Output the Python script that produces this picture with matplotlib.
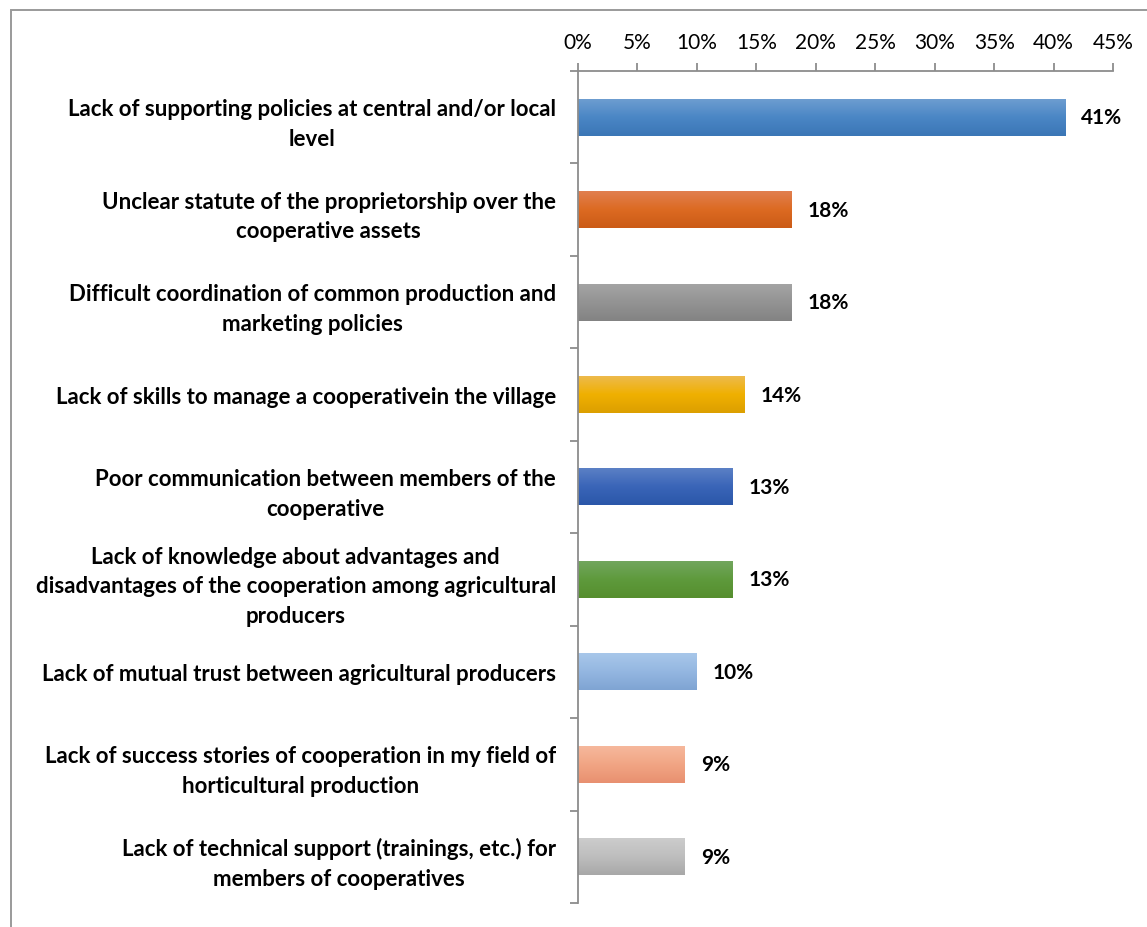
import numpy as np
import matplotlib
matplotlib.use("Agg")
import matplotlib.pyplot as plt
from matplotlib.colors import to_rgb
from matplotlib.patches import Rectangle

categories = [
    "Lack of supporting policies at central and/or local\nlevel",
    "Unclear statute of the proprietorship over the\ncooperative assets",
    "Difficult coordination of common production and\nmarketing policies",
    "Lack of skills to manage a cooperativein the village",
    "Poor communication between members of the\ncooperative",
    "Lack of knowledge about advantages and\ndisadvantages of the cooperation among agricultural\nproducers",
    "Lack of mutual trust between agricultural producers",
    "Lack of success stories of cooperation in my field of\nhorticultural production",
    "Lack of technical support (trainings, etc.) for\nmembers of cooperatives",
]
values = [41, 18, 18, 14, 13, 13, 10, 9, 9]
value_labels = ["41%", "18%", "18%", "14%", "13%", "13%", "10%", "9%", "9%"]
x_ticks = [0, 5, 10, 15, 20, 25, 30, 35, 40, 45]
x_tick_labels = ["0%", "5%", "10%", "15%", "20%", "25%", "30%", "35%", "40%", "45%"]

# (top, middle, bottom) shades for each bar's vertical gradient
bar_shades = [
    ("#6d9dd0", "#4a86c5", "#3b76b6"),
    ("#e17f4f", "#dc6a22", "#cb5b16"),
    ("#a4a4a4", "#939393", "#838383"),
    ("#edba4c", "#f0b000", "#dc9f00"),
    ("#5b80c5", "#3a65b8", "#2b57a9"),
    ("#72a65e", "#5e9a3c", "#568e2e"),
    ("#a8c7ea", "#94b7e1", "#7fa4d3"),
    ("#f6b89c", "#f1a584", "#e89070"),
    ("#cccccc", "#bebebe", "#a8a8a8"),
]

plt.rcParams["font.family"] = ["Lato", "DejaVu Sans"]

W, H = 1147, 928
fig = plt.figure(figsize=(W / 100, H / 100), dpi=100)
ax = fig.add_axes([578 / W, 1 - 904 / H, (1113 - 578) / W, (904 - 72) / H])

n = len(categories)
ypos = np.arange(n)
bar_h = 0.4
bars = ax.barh(ypos, values, height=bar_h, color="none", edgecolor="none")


def gradient_image(shades, rows=64):
    c = [np.array(to_rgb(s)) for s in shades]
    t = np.linspace(0, 1, rows)
    img = np.empty((rows, 1, 3))
    for i, ti in enumerate(t):
        if ti < 0.5:
            f = ti / 0.5
            img[i, 0] = c[0] * (1 - f) + c[1] * f
        else:
            f = (ti - 0.5) / 0.5
            img[i, 0] = c[1] * (1 - f) + c[2] * f
    return img


for rect, shades in zip(bars, bar_shades):
    x0 = rect.get_x()
    x1 = x0 + rect.get_width()
    y_lo = rect.get_y()
    y_hi = y_lo + rect.get_height()
    ax.imshow(gradient_image(shades), extent=(x0, x1, y_hi, y_lo),
              origin="upper", aspect="auto", interpolation="bilinear", zorder=2)

for yi, v, lab in zip(ypos, values, value_labels):
    ax.annotate(lab, xy=(v, yi), xytext=(16, 0), textcoords="offset pixels",
                ha="left", va="center", fontsize=15, fontweight="bold", color="#000000")

ax.set_xlim(0, 45)
ax.set_ylim(n - 0.5, -0.5)

axis_grey = "#8c8c8c"
for side in ("right", "bottom"):
    ax.spines[side].set_visible(False)
for side in ("top", "left"):
    ax.spines[side].set_color(axis_grey)
    ax.spines[side].set_linewidth(1.3)

ax.xaxis.tick_top()
ax.set_xticks(x_ticks)
ax.set_xticklabels(x_tick_labels)
ax.tick_params(axis="x", which="major", top=True, bottom=False, length=6, width=1.3,
               color=axis_grey, labelsize=15, pad=8, labelcolor="#000000")

ax.set_yticks(ypos)
ax.set_yticklabels(categories, fontsize=16, fontweight="bold", multialignment="center",
                   linespacing=1.5)
ax.tick_params(axis="y", which="major", length=0, pad=16)
ax.set_yticks(np.arange(n + 1) - 0.5, minor=True)
ax.tick_params(axis="y", which="minor", length=6, width=1.3, color=axis_grey)

# chart area border
fig.add_artist(Rectangle((11 / W, -0.05), 1.2, 1 - 11 / H + 0.05, transform=fig.transFigure,
                         fill=False, edgecolor="#9a9a9a", linewidth=1.4))

fig.savefig("out.png", dpi=100, facecolor="white")
